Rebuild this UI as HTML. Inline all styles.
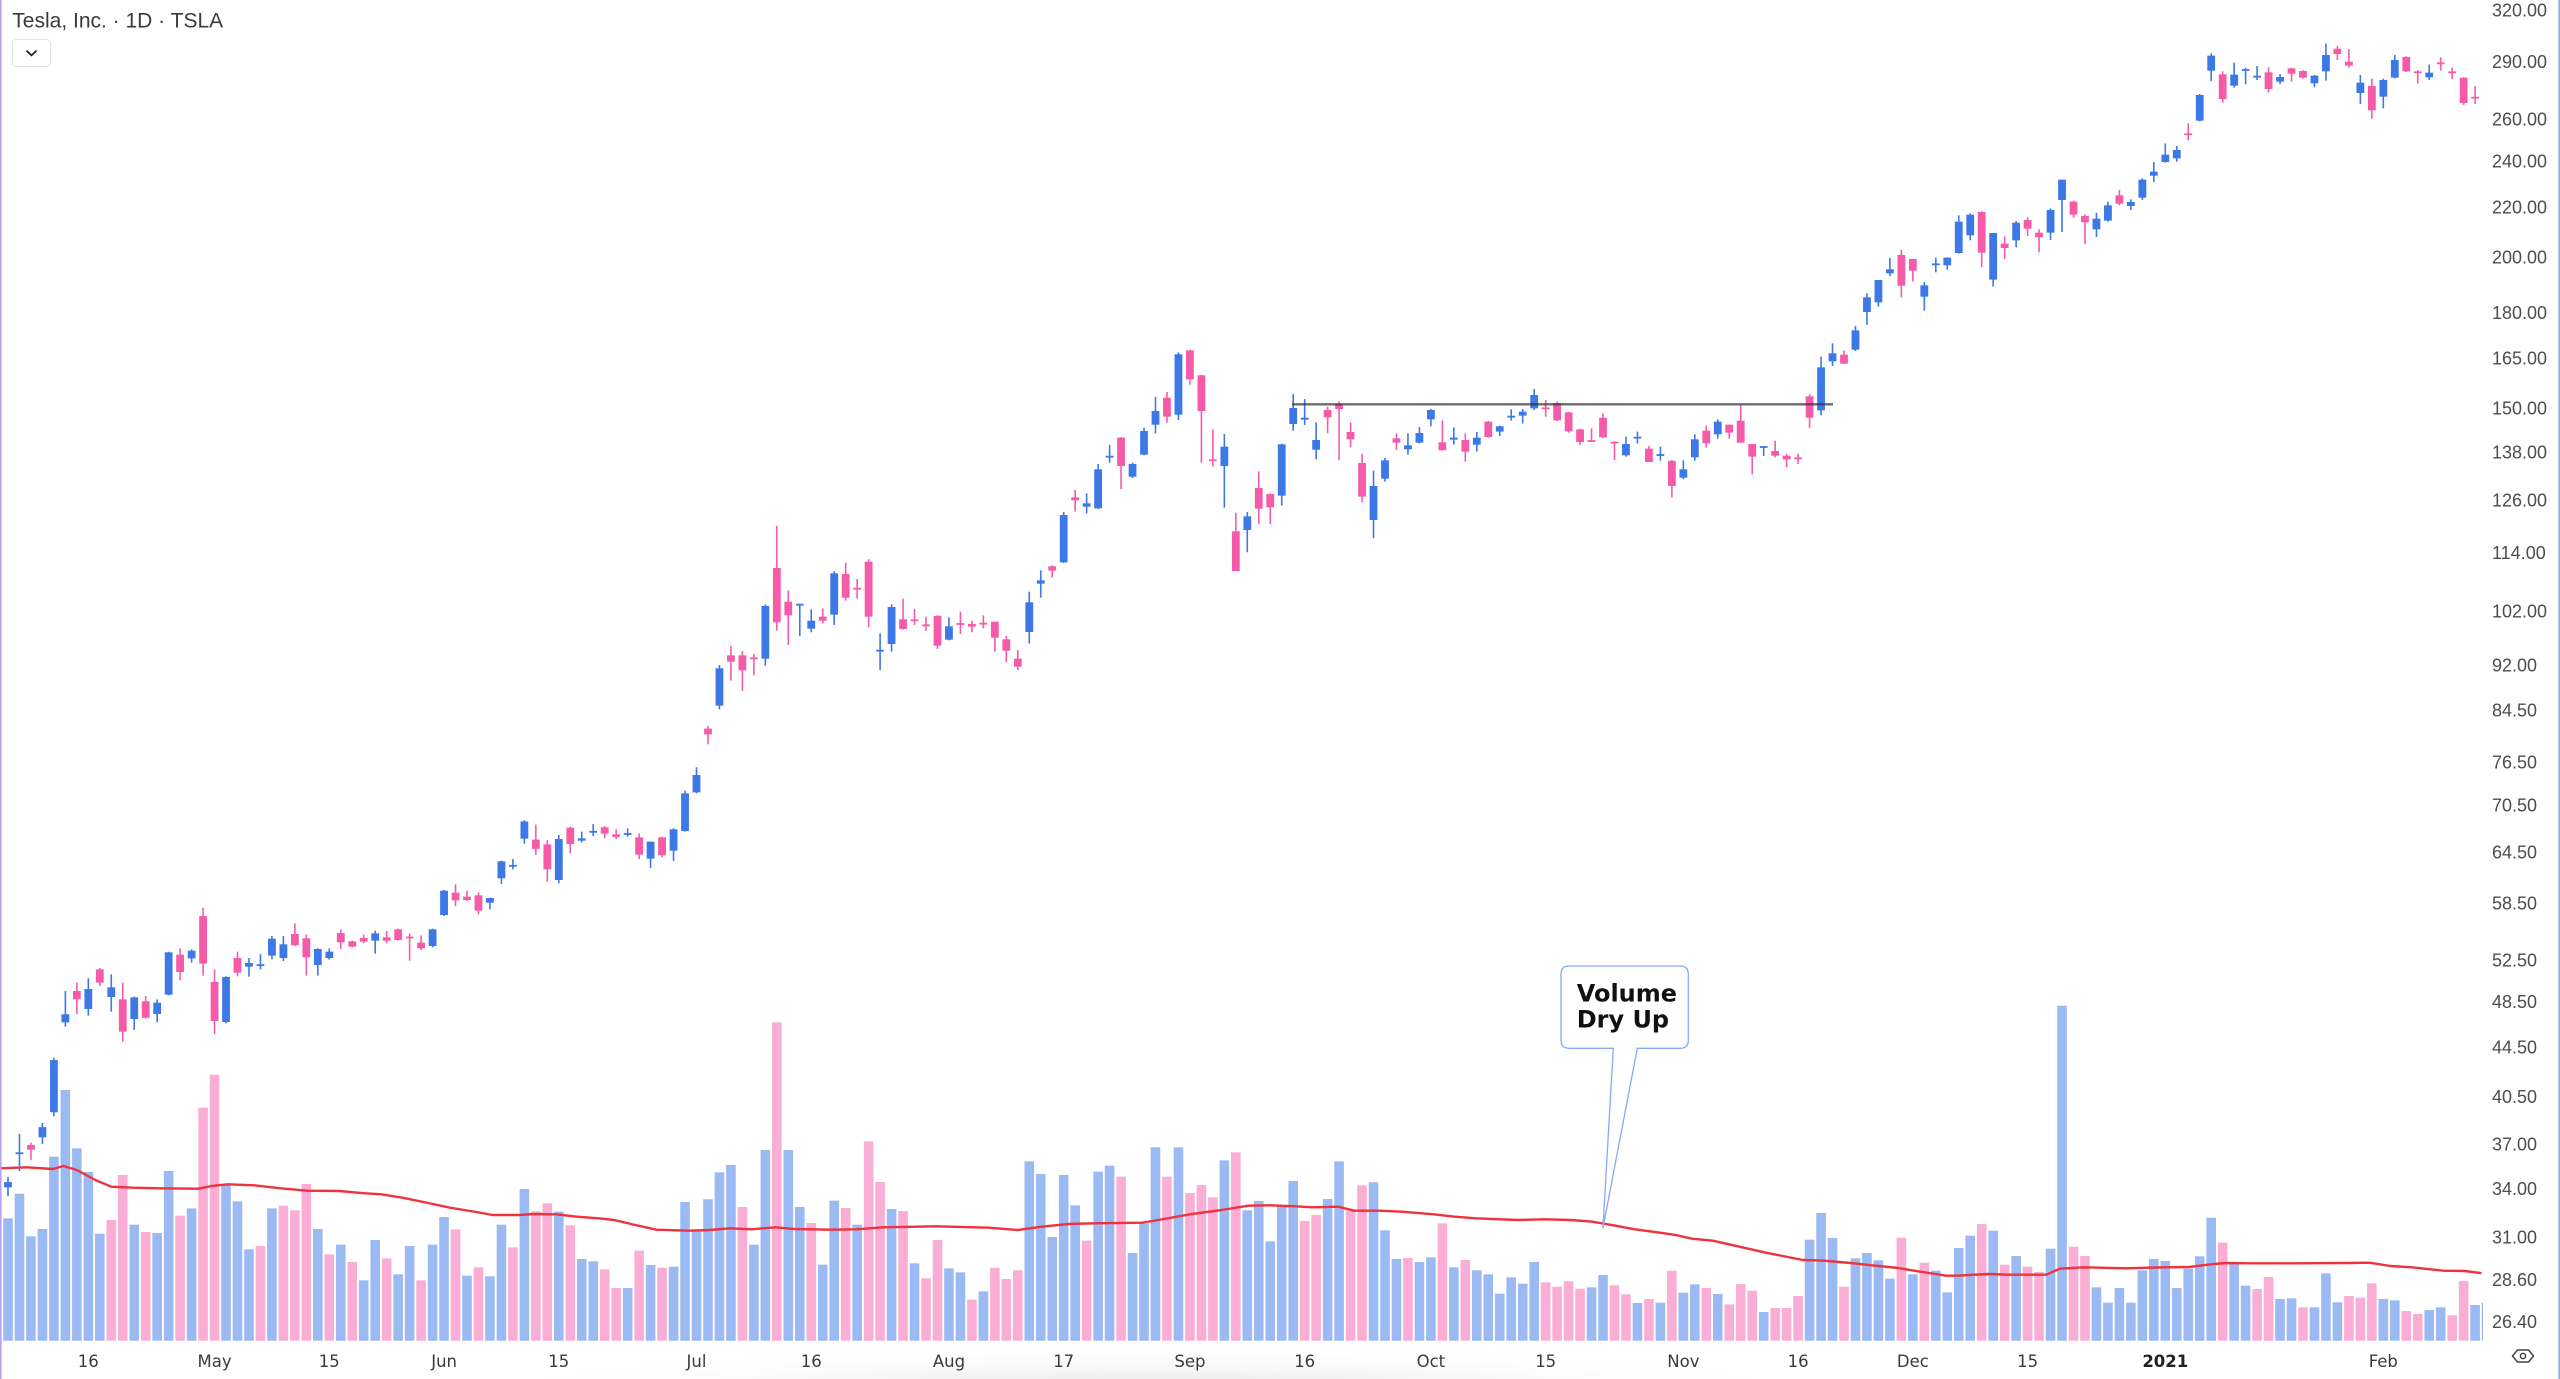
<!DOCTYPE html>
<html>
<head>
<meta charset="utf-8">
<style>
html,body{margin:0;padding:0;background:#fff;}
body{width:2560px;height:1379px;overflow:hidden;position:relative;}
#chart{position:absolute;left:0;top:0;}
</style>
</head>
<body>
<svg id="chart" width="2560" height="1379" viewBox="0 0 2560 1379" xmlns="http://www.w3.org/2000/svg">
  <defs>
    <clipPath id="pc"><rect x="0" y="0" width="2483" height="1341"/></clipPath>
    <radialGradient id="sh" cx="0.5" cy="0.5" r="0.5">
      <stop offset="0" stop-color="#dedede" stop-opacity="1"/>
      <stop offset="1" stop-color="#ffffff" stop-opacity="0"/>
    </radialGradient>
  </defs>
  <rect x="0" y="0" width="2560" height="1379" fill="#ffffff"/>
  <ellipse cx="1150" cy="1392" rx="700" ry="48" fill="url(#sh)"/>

  <g id="vol" clip-path="url(#pc)"></g>
  <polyline id="ma" fill="none" stroke="#f0323f" stroke-width="2.4" stroke-linejoin="round" stroke-linecap="round" points=""/>
  <g id="cdl" clip-path="url(#pc)"></g>

  <!-- resistance line -->
  <line x1="1292" y1="404.3" x2="1833" y2="404.3" stroke="#333333" stroke-opacity="0.72" stroke-width="2.4"/>

  <!-- callout -->
  <path d="M1569 966 H1680.3 Q1688.3 966 1688.3 974 V1040.3 Q1688.3 1048.3 1680.3 1048.3 H1637.3 L1602.9 1228.3 L1613.3 1048.3 H1569 Q1561 1048.3 1561 1040.3 V974 Q1561 966 1569 966 Z" fill="#ffffff" stroke="#86a8f5" stroke-width="1.3"/>
  <text x="1576.7" y="1001.7" font-family="'DejaVu Sans', 'Liberation Sans', sans-serif" font-weight="bold" font-size="24" fill="#111111">Volume</text>
  <text x="1576.7" y="1027.7" font-family="'DejaVu Sans', 'Liberation Sans', sans-serif" font-weight="bold" font-size="24" fill="#111111">Dry Up</text>

  <!-- title -->
  <text x="12.3" y="27.7" font-family="'Liberation Sans', sans-serif" font-size="21" fill="#3b3b3b">Tesla, Inc. · 1D · TSLA</text>
  <rect x="12.5" y="39.5" width="38" height="27" rx="4" ry="4" fill="#ffffff" stroke="#e2e2e2" stroke-width="1"/>
  <path d="M27 51.2 L31.5 55.4 L36 51.2" fill="none" stroke="#222222" stroke-width="1.8" stroke-linecap="round" stroke-linejoin="round"/>

  <!-- price axis labels -->
  <g font-family="'Liberation Sans', sans-serif" font-size="18" fill="#4d4d4d">
    <text x="2492" y="16.3">320.00</text>
    <text x="2492" y="68.0">290.00</text>
    <text x="2492" y="125.5">260.00</text>
    <text x="2492" y="167.5">240.00</text>
    <text x="2492" y="213.3">220.00</text>
    <text x="2492" y="263.4">200.00</text>
    <text x="2492" y="318.8">180.00</text>
    <text x="2492" y="364.5">165.00</text>
    <text x="2492" y="414.6">150.00</text>
    <text x="2492" y="458.5">138.00</text>
    <text x="2492" y="506.3">126.00</text>
    <text x="2492" y="558.9">114.00</text>
    <text x="2492" y="617.4">102.00</text>
    <text x="2492" y="671.6">92.00</text>
    <text x="2492" y="716.3">84.50</text>
    <text x="2492" y="768.6">76.50</text>
    <text x="2492" y="811.5">70.50</text>
    <text x="2492" y="858.3">64.50</text>
    <text x="2492" y="909.6">58.50</text>
    <text x="2492" y="966.5">52.50</text>
    <text x="2492" y="1008.2">48.50</text>
    <text x="2492" y="1053.4">44.50</text>
    <text x="2492" y="1102.9">40.50</text>
    <text x="2492" y="1150.4">37.00</text>
    <text x="2492" y="1194.9">34.00</text>
    <text x="2492" y="1243.5">31.00</text>
    <text x="2492" y="1285.8">28.60</text>
    <text x="2492" y="1327.9">26.40</text>
  </g>

  <!-- date axis labels -->
  <g font-family="'DejaVu Sans', 'Liberation Sans', sans-serif" font-size="16.5" fill="#3a3a3a" text-anchor="middle">
    <text x="88.3" y="1367">16</text>
    <text x="214.6" y="1367">May</text>
    <text x="329.3" y="1367">15</text>
    <text x="444.1" y="1367">Jun</text>
    <text x="558.8" y="1367">15</text>
    <text x="696.5" y="1367">Jul</text>
    <text x="811.3" y="1367">16</text>
    <text x="949.0" y="1367">Aug</text>
    <text x="1063.7" y="1367">17</text>
    <text x="1189.9" y="1367">Sep</text>
    <text x="1304.7" y="1367">16</text>
    <text x="1430.9" y="1367">Oct</text>
    <text x="1545.7" y="1367">15</text>
    <text x="1683.4" y="1367">Nov</text>
    <text x="1798.1" y="1367">16</text>
    <text x="1912.9" y="1367">Dec</text>
    <text x="2027.6" y="1367">15</text>
    <text x="2165.3" y="1367" font-weight="bold" fill="#222222">2021</text>
    <text x="2383.3" y="1367">Feb</text>
  </g>

  <!-- eye icon -->
  <path d="M2512.5 1356 L2517.5 1350 H2528.5 L2533.5 1356 L2528.5 1362 H2517.5 Z" fill="none" stroke="#444444" stroke-width="1.5" stroke-linejoin="round"/>
  <circle cx="2523" cy="1356" r="2.6" fill="none" stroke="#444444" stroke-width="1.5"/>

  <!-- borders -->
  <rect x="0" y="0" width="1.6" height="1379" fill="#b9a2f2"/>
  <rect x="2558.4" y="0" width="1.6" height="1379" fill="#94a6ea"/>
</svg>

<script>
(function(){
  var X0=8, DX=11.475;
  function bx(i){return X0+DX*i;}
  function py(p){return 9.8+(5.76832-Math.log(p))*525.7;}
  var CB='#3c78e6', CP='#f65ba9', VB='#9bbaf3', VP='#faaed5';
  var BASE=1340.7;

  // ---------- volume ----------
  var v9=[[-1,'B',467],[0,'B',655],[1,'B',581],[2,'B',709],[3,'B',687],[4,'B',470],[5,'B',270],[6,'B',445],[7,'B',516],[8,'B',701],[9,'P',660],[10,'P',525],[11,'B',674],[12,'P',696],[13,'B',699],[14,'B',513],[15,'P',647],[16,'B',625],[17,'P',323],[18,'P',224],[19,'B',555],[20,'B',604],[21,'B',748],[22,'P',738],[23,'B',625],[24,'P',617],[25,'P',631],[26,'P',552],[27,'B',687],[28,'P',763],[29,'B',734],[30,'P',786],[31,'B',841],[32,'B',720],[33,'P',775],[34,'B',823],[35,'B',738],[36,'P',841],[37,'B',734],[38,'B',651],[39,'P',688],[40,'B',827],[41,'P',802],[42,'B',829],[43,'B',674],[44,'P',742],[45,'B',567],[46,'P',634],[47,'P',610],[48,'B',635],[49,'P',676],[50,'B',777],[51,'B',784],[52,'P',808],[53,'P',864],[54,'B',864],[55,'P',752],[56,'B',795],[57,'P',803],[58,'B',800],[59,'B',606],[60,'B',690],[61,'B',598],[62,'B',517],[63,'B',495],[64,'P',621],[65,'B',734],[66,'B',450],[67,'P',67],[68,'B',450],[69,'B',621],[70,'P',669],[71,'B',794]];
  var v10=[[72,'B',752],[73,'P',774],[74,'B',824],[75,'P',574],[76,'P',696],[77,'B',777],[78,'P',783],[79,'B',940],[80,'P',985],[81,'P',870],[82,'B',955],[83,'B',967],[84,'P',1049],[85,'B',1024],[86,'P',953],[87,'P',987],[88,'P',961],[89,'B',634],[90,'B',672],[91,'B',861],[92,'B',675],[93,'B',766],[94,'P',872],[95,'B',665],[96,'B',647],[97,'P',680],[98,'B',909],[99,'B',820],[100,'B',592],[101,'P',680],[102,'B',592],[103,'P',729],[104,'P',705],[105,'P',742],[106,'B',631],[107,'P',607],[108,'B',781],[109,'B',753],[110,'B',874],[111,'B',767],[112,'B',693],[113,'P',813],[114,'P',795],[115,'B',747],[116,'B',634],[117,'P',782],[118,'P',706],[119,'B',697],[120,'B',841],[121,'B',927],[122,'P',924],[123,'B',936],[124,'B',922],[125,'P',820],[126,'B',952],[127,'P',930],[128,'B',961],[129,'B',973],[130,'B',1031],[131,'B',982],[132,'B',1001],[133,'B',936],[134,'P',997],[135,'P',1010],[136,'P',994],[137,'P',1016],[138,'B',1012],[139,'B',975],[140,'P',1006],[141,'P',1033],[142,'B',1059],[143,'P',1047]];
  var v11=[[144,'B',968],[145,'P',872],[146,'B',938],[147,'B',913],[148,'P',924],[149,'B',942],[150,'P',973],[151,'P',912],[152,'P',932],[153,'B',996],[154,'P',984],[155,'P',984],[156,'P',948],[157,'B',779],[158,'B',699],[159,'B',774],[160,'P',920],[161,'B',835],[162,'B',819],[163,'B',841],[164,'B',896],[165,'P',773],[166,'B',883],[167,'P',848],[168,'B',872],[169,'B',937],[170,'B',804],[171,'B',767],[172,'P',732],[173,'B',752],[174,'P',854],[175,'B',828],[176,'P',860],[177,'P',876],[178,'B',806],[179,'B',77],[180,'P',800],[181,'P',828],[182,'B',922],[183,'B',968],[184,'B',924],[185,'B',968],[186,'B',871],[187,'B',837],[188,'B',843],[189,'B',924],[190,'B',866],[191,'B',829],[192,'B',713],[193,'P',788],[194,'B',852],[195,'B',917],[196,'P',927],[197,'P',891],[198,'B',957],[199,'B',955],[200,'P',982],[201,'B',982],[202,'B',880],[203,'B',967],[204,'P',948],[205,'P',953],[206,'P',910],[207,'B',957],[208,'B',961],[209,'P',993],[210,'P',1002],[211,'B',990],[212,'B',982],[213,'P',1006],[214,'P',903],[215,'B',975],[216,'B',968]];

  var vs='';
  function vol(oy,arr){
    for(var k=0;k<arr.length;k++){
      var r=arr[k], y=oy+r[2]/3, x=bx(r[0])-4.8;
      vs+='<rect x="'+x.toFixed(2)+'" y="'+y.toFixed(2)+'" width="9.6" height="'+(BASE-y).toFixed(2)+'" fill="'+(r[1]=='B'?VB:VP)+'"/>';
    }
  }
  vol(1000,v9); vol(950,v10); vol(980,v11);
  document.getElementById('vol').innerHTML=vs;

  // ---------- MA ----------
  var ma9=[[0,505],[50,502],[100,507],[120,498],[145,510],[180,540],[210,560],[250,563],[300,565],[375,566],[400,558],[430,553],[480,556],[530,565],[580,572],[640,573],[690,580],[720,583],[760,593],[800,606],[850,623],[900,636],[930,645],[980,645],[1010,642],[1050,643],[1090,650],[1130,655],[1160,660],[1200,675],[1240,689],[1300,692],[1340,690],[1380,685],[1420,688],[1465,682],[1500,687],[1568,689]];
  var ma10=[[50,838],[100,832],[200,829],[300,833],[355,840],[400,830],[450,822],[500,820],[590,818],[620,810],[680,793],[740,780],[790,767],[830,766],[880,769],[910,772],[960,770],[990,782],[1040,782],[1080,785],[1140,793],[1180,800],[1220,805],[1300,810],[1350,808],[1400,810],[1440,815],[1480,826],[1520,838],[1568,848]];
  var ma11=[[30,765],[60,776],[100,782],[150,800],[200,818],[270,840],[310,842],[360,849],[400,856],[450,864],[480,872],[520,882],[540,887],[560,887],[620,882],[660,884],[730,884],[755,866],[800,862],[830,863],[880,865],[950,862],[1000,861],[1040,853],[1070,849],[1110,850],[1200,850],[1300,849],[1340,848],[1380,858],[1420,862],[1480,872],[1520,873],[1550,879]];
  var pts=[];
  function mp(ox,oy,arr){for(var k=0;k<arr.length;k++){pts.push((ox+arr[k][0]/1.889).toFixed(1)+','+(oy+arr[k][1]/3).toFixed(1));}}
  mp(0,1000,ma9); mp(830,950,ma10); mp(1660,980,ma11);
  document.getElementById('ma').setAttribute('points',pts.join(' '));

  // ---------- candles ----------
  var cs='';
  function cd(i,c,bt,bb,wt,wb){
    var x=bx(i), col=(c=='B'?CB:CP);
    var h=bb-bt;
    if(h<1.8){var m=(bt+bb)/2; bt=m-0.9; h=1.8; bb=bt+h;}
    if(wt>bt) wt=bt; if(wb<bb) wb=bb;
    cs+='<rect x="'+(x-0.8).toFixed(2)+'" y="'+wt.toFixed(2)+'" width="1.6" height="'+(wb-wt).toFixed(2)+'" fill="'+col+'"/>';
    cs+='<rect x="'+(x-3.9).toFixed(2)+'" y="'+bt.toFixed(2)+'" width="7.8" height="'+h.toFixed(2)+'" fill="'+col+'"/>';
  }
  function seg(oy,arr){for(var k=0;k<arr.length;k++){var r=arr[k];cd(r[0],r[1],oy+r[2]/3,oy+r[3]/3,oy+r[4]/3,oy+r[5]/3);}}
  function pr(arr){for(var k=0;k<arr.length;k++){var r=arr[k];var o=r[2],c=r[3];cd(r[0],r[1],py(Math.max(o,c)),py(Math.min(o,c)),py(r[4]),py(r[5]));}}

  pr([[0,'B',34.07,34.41,34.74,33.5],[1,'B',36.33,36.37,37.72,35.14],[2,'P',36.93,36.59,37.1,35.9],[3,'B',37.47,38.2,38.5,37.0],[4,'B',39.3,43.4,43.6,39.0],[45,'B',66.13,68.34,68.5,65.5],[46,'P',66.01,64.86,67.93,64.13]]);

  seg(860,[[5,'B',463,487,393,500],[6,'P',393,418,368,462],[7,'B',387,447,355,467],[8,'P',328,368,324,378],[9,'B',382,411,343,455],[10,'P',418,515,368,545],[11,'B',412,477,410,510],[12,'P',424,473,408,476],[13,'B',428,462,418,487],[14,'B',277,404,275,406],[15,'P',284,336,265,361],[16,'B',272,295,268,308],[17,'P',168,311,143,347],[18,'P',366,483,328,522],[19,'B',351,486,349,490],[20,'P',294,338,275,349],[21,'B',309,320,294,350],[22,'B',313,318,282,328],[23,'B',236,287,228,298],[24,'B',253,294,228,303],[25,'P',222,256,190,258],[26,'P',235,292,224,347],[27,'B',267,315,265,347],[28,'B',275,294,265,299],[29,'P',219,247,208,267],[30,'P',244,260,242,262],[31,'P',234,245,224,250],[32,'B',220,242,212,281],[33,'P',232,242,213,250],[34,'P',208,240,206,242],[35,'P',231,234,220,302],[36,'P',248,265,226,270],[37,'B',208,258,206,262],[38,'B',92,165,90,168],[39,'P',98,121,73,138],[40,'P',110,120,92,124],[41,'P',106,152,97,163],[42,'B',114,128,113,148],[43,'B',4,55,2,72],[44,'B',16,19,-3,28]]);

  seg(500,[[47,'P',1033,1108,1020,1145],[48,'B',1017,1140,1005,1150],[49,'P',983,1032,980,1060],[50,'B',1015,1022,995,1027],[51,'B',993,998,972,1008],[52,'P',982,1001,978,1015],[53,'P',1003,1011,988,1017],[54,'B',1000,1004,985,1010],[55,'P',1012,1064,1000,1077],[56,'B',1025,1076,1025,1104],[57,'P',1012,1066,1010,1072],[58,'B',988,1052,985,1083],[59,'B',880,993,872,995],[60,'B',825,877,802,880],[61,'P',686,703,678,733],[62,'B',505,617,495,628],[63,'P',466,485,438,542],[64,'P',466,511,453,573],[65,'P',473,477,462,526],[66,'B',318,476,313,497],[67,'P',204,367,78,392],[68,'P',305,346,271,435],[69,'B',312,316,312,408],[70,'B',362,386,328,397],[71,'P',350,362,325,370],[72,'B',220,344,214,375],[73,'P',222,293,188,302],[74,'P',264,268,237,296],[75,'P',185,350,178,382],[76,'B',450,454,400,510],[77,'B',321,432,313,455],[78,'P',358,387,296,389],[79,'P',359,363,327,375],[80,'P',374,378,350,392],[81,'P',348,437,345,447],[82,'B',379,419,352,421],[83,'P',370,374,335,402],[84,'P',372,380,362,397],[85,'P',369,373,346,385],[86,'P',365,413,365,455],[87,'P',418,452,408,487],[88,'P',476,500,450,510],[89,'B',307,396,275,431],[90,'B',241,251,211,293],[91,'P',199,212,196,233]]);

  seg(310,[[92,'B',615,757,606,759],[93,'P',562,571,540,605],[94,'B',580,590,550,610],[95,'B',478,595,462,597],[96,'B',438,442,405,458],[97,'P',383,468,381,537],[98,'B',462,500,458,504],[99,'B',363,434,353,436],[100,'B',303,344,261,370],[101,'P',263,320,246,338],[102,'B',133,314,127,330],[103,'P',121,208,119,224],[104,'P',196,303,194,458],[105,'P',449,453,358,470],[106,'B',410,468,372,593],[107,'P',664,783,608,783],[108,'B',619,660,606,727],[109,'P',534,596,484,642],[110,'P',552,592,550,642],[111,'B',403,557,401,587],[112,'B',294,342,252,362],[113,'B',323,329,267,345],[114,'B',390,419,337,448],[115,'P',300,322,290,370],[116,'P',282,297,274,450],[117,'P',366,388,337,411],[118,'P',459,560,432,577],[119,'B',528,630,482,684],[120,'B',451,506,444,515],[121,'P',385,398,371,420],[122,'B',406,418,370,434],[123,'B',369,398,351,400],[124,'B',300,328,297,349],[125,'P',397,421,331,421],[126,'B',383,389,352,404],[127,'P',390,425,370,455],[128,'B',383,404,366,425],[129,'P',335,381,333,383],[130,'B',349,365,347,378],[131,'B',318,322,298,332],[132,'B',305,317,297,340],[133,'B',255,295,237,300],[134,'P',293,297,270,320],[135,'P',279,331,274,333],[136,'P',307,364,305,368],[137,'P',358,396,356,405],[138,'P',391,395,355,396]]);

  seg(160,[[139,'P',773,832,760,834],[140,'P',846,850,843,900],[141,'B',852,886,830,890],[142,'B',831,835,815,851],[143,'P',866,906,858,906],[144,'B',883,887,860,902],[145,'P',903,978,900,1013],[146,'B',928,953,901,958],[147,'B',838,892,823,902],[148,'P',812,850,797,863],[149,'B',785,823,778,836],[150,'P',794,818,794,836],[151,'P',782,848,735,848],[152,'P',852,890,852,943],[153,'B',859,863,858,888],[154,'P',873,887,842,892],[155,'P',887,898,881,922],[156,'P',893,897,881,912],[157,'P',709,773,703,803],[158,'B',622,751,590,766],[159,'B',580,604,550,618],[160,'P',584,611,572,612],[161,'B',511,569,498,573],[162,'B',412,456,400,495],[163,'B',360,427,360,440],[164,'B',328,340,294,348],[165,'P',285,377,269,412],[166,'P',297,332,297,365],[167,'B',376,410,366,452],[168,'B',311,315,293,337],[169,'B',293,316,292,329],[170,'B',185,279,166,281],[171,'B',164,226,160,241],[172,'P',156,278,154,322],[173,'B',219,359,219,380],[174,'P',251,264,229,297],[175,'B',188,241,183,262],[176,'P',180,206,172,228],[177,'P',218,232,208,277],[178,'B',150,218,145,240],[179,'B',59,120,59,216],[180,'P',125,164,122,173],[181,'P',168,187,163,252],[182,'B',176,208,158,231],[183,'B',136,182,125,185],[184,'P',106,131,90,136]]);

  seg(30,[[185,'B',516,528,508,540],[186,'B',449,503,445,510],[187,'B',425,437,396,456],[188,'B',374,396,340,398],[189,'B',360,385,348,395],[190,'P',311,315,280,330],[191,'B',195,272,192,274],[192,'B',77,122,70,153],[193,'P',133,207,124,218],[194,'B',134,167,98,173],[195,'B',118,122,113,163],[196,'B',138,142,108,150],[197,'P',127,177,112,187],[198,'B',141,155,132,162],[199,'P',115,131,113,155],[200,'P',123,143,121,146],[201,'B',137,160,135,172],[202,'B',75,124,40,152],[203,'P',56,72,48,90],[204,'P',95,107,57,113],[205,'B',158,189,135,222],[206,'P',168,241,146,266],[207,'B',150,200,146,235],[208,'B',90,143,75,145],[209,'P',81,124,79,126],[210,'P',125,129,120,161],[211,'B',128,142,104,150],[212,'P',98,102,82,122],[213,'P',125,129,113,147],[214,'P',143,219,142,225],[215,'P',201,205,168,222]]);

  document.getElementById('cdl').innerHTML=cs;
})();
</script>
</body>
</html>
